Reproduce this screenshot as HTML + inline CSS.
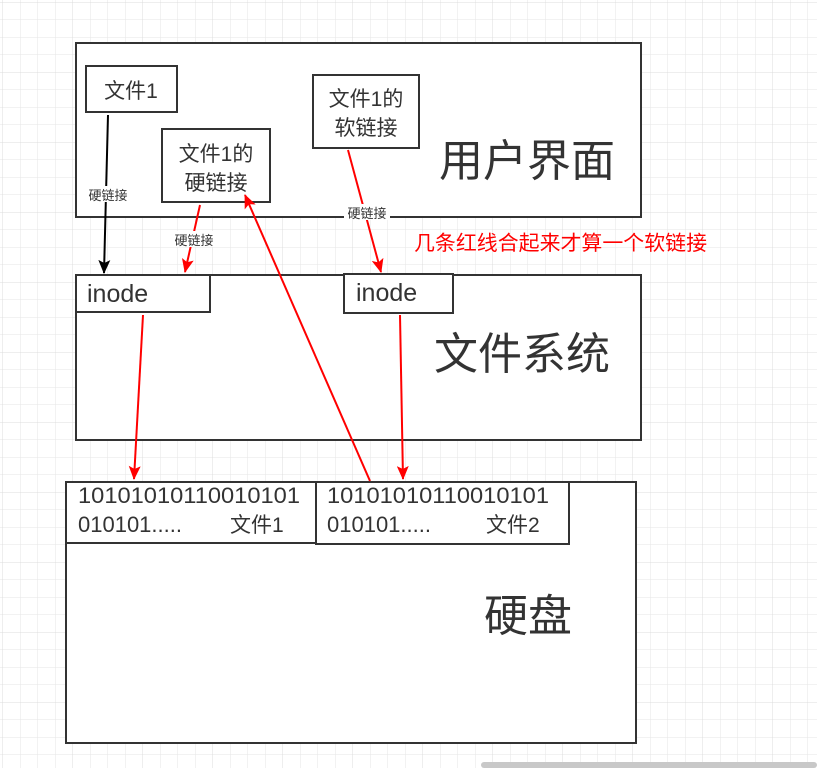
<!DOCTYPE html>
<html><head><meta charset="utf-8"><style>
html,body{margin:0;padding:0;background:#fff}
body{width:817px;height:768px;overflow:hidden;position:relative;font-family:"Liberation Sans","Noto Sans CJK SC",sans-serif}
</style></head><body>
<svg width="817" height="768" viewBox="0 0 817 768" xmlns="http://www.w3.org/2000/svg" style="position:absolute;left:0;top:0">
<defs>
<pattern id="g" x="2.5" y="2" width="17.5" height="17.5" patternUnits="userSpaceOnUse">
<path d="M0 0H17.5M0 0V17.5" stroke="#e6e6e6" stroke-width="1" fill="none"/>
</pattern>
<pattern id="G" x="2.5" y="2" width="70" height="70" patternUnits="userSpaceOnUse">
<path d="M0 0H70M0 0V70" stroke="#dcdcdc" stroke-width="1" fill="none"/>
</pattern>
<marker id="ar" markerWidth="14" markerHeight="12" refX="13" refY="6" orient="auto" markerUnits="userSpaceOnUse"><path d="M0 0L14 6L0 12L3 6Z" fill="#f00"/></marker>
<marker id="ab" markerWidth="14" markerHeight="12" refX="13" refY="6" orient="auto" markerUnits="userSpaceOnUse"><path d="M0 0L14 6L0 12L3 6Z" fill="#000"/></marker>
</defs>
<rect width="817" height="768" fill="url(#g)"/>
<rect width="817" height="768" fill="url(#G)"/>
<g fill="#fff" stroke="#333" stroke-width="2">
<rect x="76" y="43" width="565" height="174"/>
<rect x="86" y="66" width="91" height="46"/>
<rect x="162" y="129" width="108" height="73"/>
<rect x="313" y="75" width="106" height="73"/>
<rect x="76" y="275" width="565" height="165"/>
<rect x="76" y="275" width="134" height="37"/>
<rect x="344" y="274" width="109" height="39"/>
<rect x="66" y="482" width="570" height="261"/>
<rect x="66" y="482" width="250" height="61"/>
<rect x="316" y="482" width="253" height="62"/>
</g>
<g fill="#333" font-family="Liberation Sans, Noto Sans CJK SC, sans-serif">
<text x="131" y="98" font-size="21" text-anchor="middle">文件1</text>
<text x="216" y="161" font-size="21" text-anchor="middle">文件1的</text>
<text x="216" y="190" font-size="21" text-anchor="middle">硬链接</text>
<text x="366" y="106" font-size="21" text-anchor="middle">文件1的</text>
<text x="366" y="135" font-size="21" text-anchor="middle">软链接</text>
<text x="527" y="176" font-size="44" text-anchor="middle">用户界面</text>
<text x="87" y="302" font-size="25">inode</text>
<text x="356" y="301" font-size="25">inode</text>
<text x="522" y="369" font-size="44" text-anchor="middle">文件系统</text>
<text x="78" y="503" font-size="22" textLength="222" lengthAdjust="spacingAndGlyphs">10101010110010101</text>
<text x="78" y="532" font-size="22">010101.....</text>
<text x="230" y="532" font-size="21">文件1</text>
<text x="327" y="503" font-size="22" textLength="222" lengthAdjust="spacingAndGlyphs">10101010110010101</text>
<text x="327" y="532" font-size="22">010101.....</text>
<text x="486" y="532" font-size="21">文件2</text>
<text x="528" y="631" font-size="44" text-anchor="middle">硬盘</text>
</g>
<text x="414" y="250" font-size="20.5" fill="#f00" textLength="293" lengthAdjust="spacingAndGlyphs" font-family="Liberation Sans, Noto Sans CJK SC, sans-serif">几条红线合起来才算一个软链接</text>
<line x1="108" y1="115" x2="104" y2="273" stroke="#000" stroke-width="2" marker-end="url(#ab)"/>
<g stroke="#f00" stroke-width="2" fill="none">
<line x1="200" y1="205" x2="185" y2="272" marker-end="url(#ar)"/>
<line x1="348" y1="150" x2="381" y2="272" marker-end="url(#ar)"/>
<line x1="143" y1="315" x2="134" y2="479" marker-end="url(#ar)"/>
<line x1="400" y1="315" x2="403" y2="479" marker-end="url(#ar)"/>
<line x1="370" y1="481" x2="245" y2="195" marker-end="url(#ar)"/>
</g>
<g font-size="13" fill="#333" text-anchor="middle" font-family="Liberation Sans, Noto Sans CJK SC, sans-serif">
<rect x="85" y="186" width="46" height="16" fill="#fff"/>
<text x="108" y="200">硬链接</text>
<rect x="171" y="231" width="46" height="16" fill="#fff"/>
<text x="194" y="245">硬链接</text>
<rect x="344" y="204" width="46" height="16" fill="#fff"/>
<text x="367" y="218">硬链接</text>
</g>
<rect x="481" y="762" width="336" height="6" rx="3" fill="#c8c8c8"/>
</svg>
</body></html>
